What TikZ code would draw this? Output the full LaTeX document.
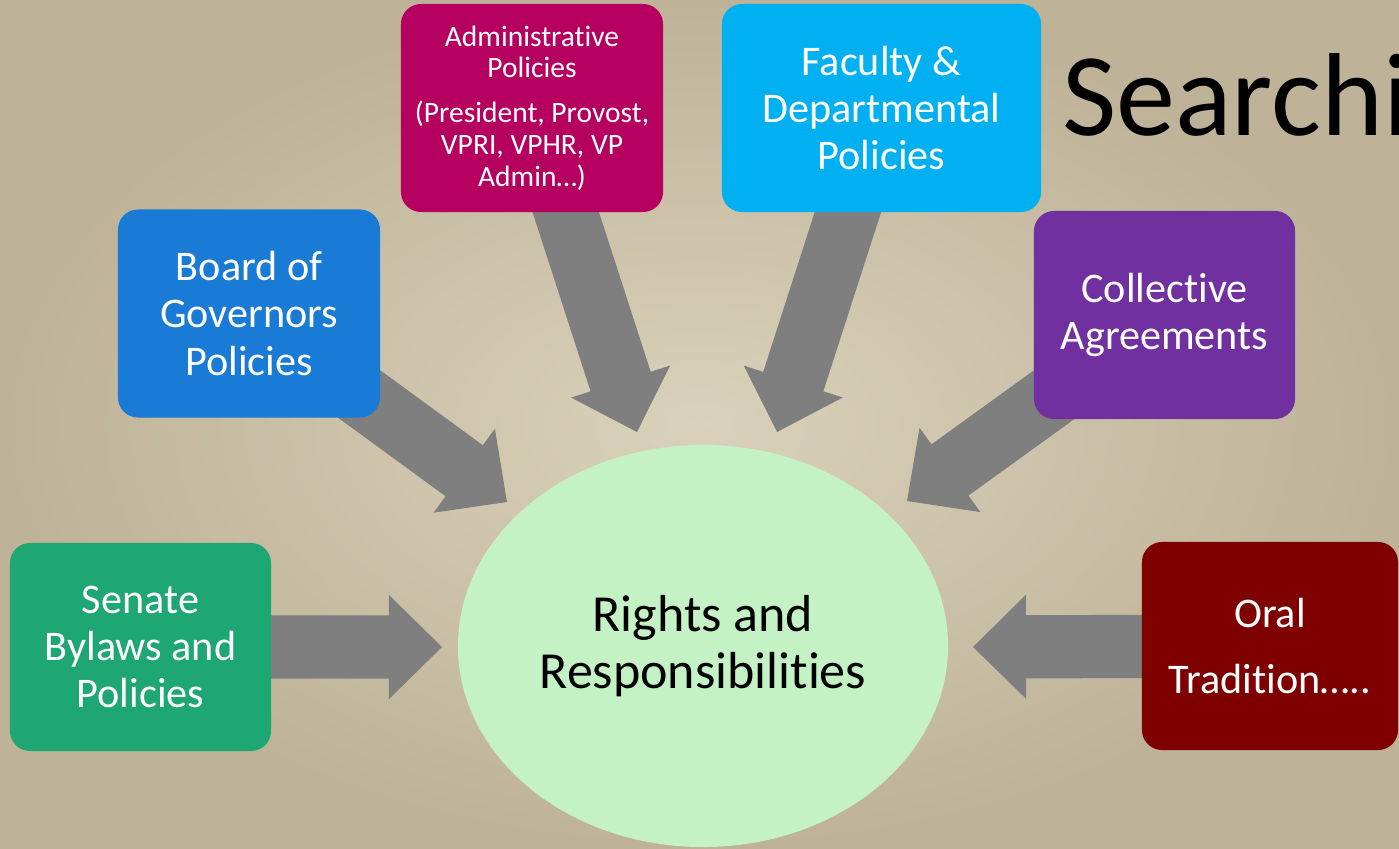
\documentclass[tikz,border=0pt]{standalone}
\usepackage{fontspec}
\setmainfont{Carlito}[Ligatures=NoCommon]
\usetikzlibrary{calc,shapes.geometric}
\pgfdeclarelayer{paper}
\pgfdeclarelayer{under}
\pgfsetlayers{paper,under,main}
\definecolor{paperl}{RGB}{218,209,186}
\definecolor{paperd}{RGB}{190,179,152}
\definecolor{arrowc}{RGB}{127,127,127}
\definecolor{admc}{RGB}{182,0,96}
\definecolor{facc}{RGB}{0,176,240}
\definecolor{boardc}{RGB}{26,123,214}
\definecolor{collc}{RGB}{112,48,160}
\definecolor{senc}{RGB}{30,167,115}
\definecolor{oralc}{RGB}{127,0,0}
\definecolor{ellc}{RGB}{196,242,196}
\newcommand\blockarr[2]{%
  \path ($(#2)!1.325cm!(#1)$) coordinate (hb);
  \fill[arrowc] ($(#1)!0.79cm!90:(#2)$) -- ($(hb)!0.79cm!90:(#2)$) -- ($(hb)!1.3cm!90:(#2)$) -- (#2)
    -- ($(hb)!1.3cm!-90:(#2)$) -- ($(hb)!0.79cm!-90:(#2)$) -- ($(#1)!0.79cm!-90:(#2)$) -- cycle;}
\begin{document}
\begin{tikzpicture}[x=0.025cm,y=-0.025cm,
  box/.style={rounded corners=0.5cm, text=white, align=center, inner sep=0pt,
    font=\fontsize{30}{33.5}\selectfont, minimum height=5.2cm}]
\useasboundingbox (0,0) rectangle (1399,848);
\begin{pgfonlayer}{paper}
  \shade[inner color=paperl, outer color=paperd] (0,0) rectangle (1399,848);
\end{pgfonlayer}

% title
\node[anchor=base west, inner sep=0pt, font=\fontsize{84}{92}\selectfont] (title) at (1062,135) {Searchi};

% boxes
\node[box, fill=admc, minimum width=6.55cm, font=\fontsize{21}{22.7}\selectfont] (adm) at (532,108)
  {Administrative\\Policies\\[9pt](President, Provost,\\VPRI, VPHR, VP\\Admin…)};
\node[box, fill=facc, minimum width=7.975cm] (fac) at (881.5,108)
  {Faculty \&\\Departmental\\Policies};
\node[box, fill=boardc, minimum width=6.55cm] (board) at (249,313.5)
  {Board of\\Governors\\Policies};
\node[box, fill=collc, minimum width=6.525cm] (coll) at (1164.5,315)
  {Collective\\Agreements};
\node[box, fill=senc, minimum width=6.525cm] (sen) at (140.5,647)
  {Senate\\Bylaws and\\Policies};
\node[box, fill=oralc, minimum width=6.4cm] (oral) at (1270,646)
  {Oral\\[13pt]Tradition…..};

% centre
\node[ellipse, fill=ellc, minimum width=12.25cm, minimum height=10.05cm, inner sep=0pt,
  align=center, font=\fontsize{37}{41}\selectfont] (rr) at (703,646)
  {Rights and\\Responsibilities};

% arrow tips
\coordinate (tadm) at (637,432);
\coordinate (tfac) at (777,432);
\coordinate (tboard) at (507,502);
\coordinate (tcoll) at (907,501);
\coordinate (tsen) at (442,647);
\coordinate (toral) at (973,647);

\begin{pgfonlayer}{under}
  \blockarr{adm}{tadm}
  \blockarr{fac}{tfac}
  \blockarr{board}{tboard}
  \blockarr{coll}{tcoll}
  \blockarr{sen}{tsen}
  \blockarr{oral}{toral}
\end{pgfonlayer}
\end{tikzpicture}
\end{document}
